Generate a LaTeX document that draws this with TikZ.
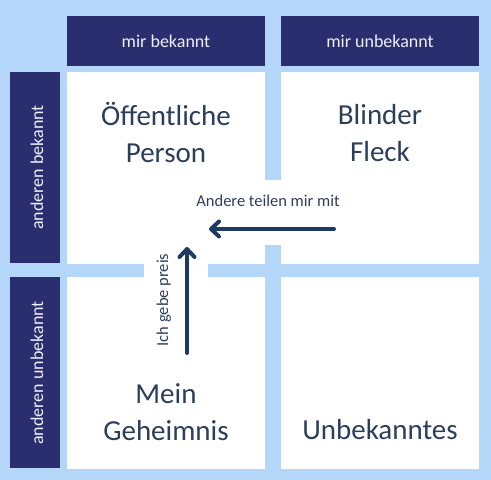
\documentclass[tikz,border=0pt]{standalone}
\usepackage{fontspec}
\setmainfont{Carlito}
\usetikzlibrary{arrows.meta,positioning}
\definecolor{JSky}{HTML}{B4D7F9}
\definecolor{JNavy}{HTML}{2A2D6E}
\definecolor{JInk}{HTML}{2D3E5C}
\definecolor{JArrow}{HTML}{1F3A62}
\definecolor{JPale}{HTML}{EEF0FF}

\begin{document}
\begin{tikzpicture}[
  x=1pt,y=1pt,
  head/.style={fill=JNavy,text=JPale,inner sep=0pt,minimum width=198pt,
    minimum height=50pt,text height=14pt,text depth=0pt,font=\fontsize{18}{22}\selectfont},
  side/.style={head,rotate=90,minimum width=191pt,text height=16pt},
  quad/.style={text=JInk,align=center,inner sep=0pt,font=\fontsize{29}{37}\selectfont},
  lbl/.style={text=JInk,inner sep=0pt,font=\fontsize{16.5}{20}\selectfont},
  bar/.style={fill=JSky},
  a/.style={-{Straight Barb[length=8pt,width=15pt,round]},line width=4pt,
    line cap=round,color=JArrow}
]
  \useasboundingbox[fill=JSky] (0,0) rectangle (491,480);
  \fill[white] (67,11) rectangle (479,408);
  % the cross, left open where the arrows pass
  \fill[bar] (265,300) rectangle (281,414);
  \fill[bar] (265,11) rectangle (281,235);
  \fill[bar] (60,203) rectangle (144,216);
  \fill[bar] (208,203) rectangle (479,216);
  \node[head] (hmb) at (166,439) {mir bekannt};
  \node[head] (hmu) at (380,439) {mir unbekannt};
  \node[side] (hab) at (35,312.5) {anderen bekannt};
  \node[side] (hau) at (35,107) {anderen unbekannt};
  \node[quad] (qpub) at (166,347.5) {Öffentliche\\Person};
  \node[quad] (qblind) at (380,346.5) {Blinder\\Fleck};
  \node[quad] (qsecret) at (166,67.5) {Mein\\Geheimnis};
  \node[quad] (qunk) at (380,50) {Unbekanntes};
  \coordinate (tellS) at (334,251);
  \coordinate (tellE) at (209,251);
  \coordinate (giveS) at (187,127);
  \coordinate (giveE) at (187,233);
  \draw[a] (tellS) -- (tellE);
  \draw[a] (giveS) -- (giveE);
  \node[lbl,anchor=base] (ltell) at (268,273) {Andere teilen mir mit};
  \node[lbl,anchor=base,rotate=90] (lgive) at (168,180) {Ich gebe preis};
\end{tikzpicture}
\end{document}
